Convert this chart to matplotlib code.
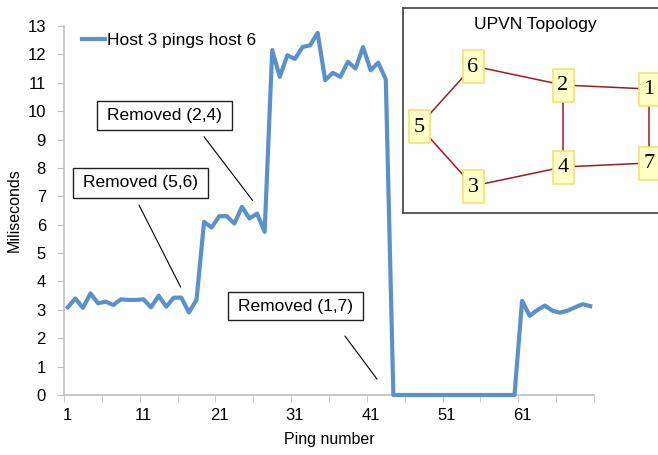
import numpy as np
import matplotlib.pyplot as plt
from matplotlib.patches import Rectangle

plt.rcParams['font.family'] = ['Liberation Sans', 'DejaVu Sans']

# round-trip time of each ping from host 3 to host 6 (ms)
latency = [3.09, 3.40, 3.07, 3.58, 3.23, 3.29, 3.17, 3.37, 3.35, 3.35,
           3.37, 3.09, 3.50, 3.11, 3.43, 3.43, 2.91, 3.35, 6.10, 5.90,
           6.30, 6.30, 6.04, 6.63, 6.22, 6.39, 5.75, 12.15, 11.21, 11.97,
           11.84, 12.26, 12.32, 12.76, 11.09, 11.35, 11.21, 11.74, 11.50, 12.26,
           11.44, 11.71, 11.12, 0.00, 0.00, 0.00, 0.00, 0.00, 0.00, 0.00,
           0.00, 0.00, 0.00, 0.00, 0.00, 0.00, 0.00, 0.00, 0.00, 0.00,
           3.32, 2.79, 2.99, 3.15, 2.97, 2.90, 2.97, 3.09, 3.20, 3.13]
pings = np.arange(1, len(latency) + 1)

# link removal callouts: label, box (x0, x1, y0, y1), leader line start/end
events = ["Removed (5,6)", "Removed (2,4)", "Removed (1,7)"]
event_boxes = [(1.69, 19.52, 6.94, 8.00),
               (4.86, 22.69, 9.34, 10.36),
               (22.16, 39.99, 2.64, 3.63)]
event_lines = [((10.41, 6.69), (15.91, 3.80)),
               ((18.99, 9.10), (25.42, 6.85)),
               ((37.6, 2.08), (41.84, 0.56))]

# network topology
node_names = ["6", "2", "1", "5", "4", "7", "3"]
node_x = [70, 160, 246, 16, 160, 246, 70]
node_y = [58, 77, 81, 118, 159, 155, 178]
links = [("5", "6"), ("6", "2"), ("2", "1"), ("1", "7"),
         ("7", "4"), ("4", "2"), ("4", "3"), ("3", "5")]

W, H = 658, 455
fig = plt.figure(figsize=(W / 100, H / 100), dpi=100)
ax = fig.add_axes([64 / W, 1 - 395 / H, 530 / W, 369 / H])

ax.plot(pings, latency, color="#5B91CB", lw=3, clip_on=False,
        label="Host 3 pings host 6", zorder=3)

ax.set_xlim(0.5, len(latency) + 0.5)
ax.set_ylim(0, 13)
ax.set_yticks(range(0, 14))
ax.set_xticks(pings[::10])
ax.set_xticks(np.arange(0.5, len(latency) + 1, 5), minor=True)
ax.tick_params(axis="x", which="major", length=0, pad=9, labelsize=12)
ax.tick_params(axis="x", which="minor", length=5, color="#BFBFBF", direction="out")
ax.tick_params(axis="y", length=5, color="#BFBFBF", direction="out",
               pad=8, labelsize=12)
for s in ["top", "right"]:
    ax.spines[s].set_visible(False)
for s in ["left", "bottom"]:
    ax.spines[s].set_color("#BFBFBF")
    ax.spines[s].set_linewidth(1.2)

ax.set_xlabel("Ping number", fontsize=11.5)
ax.xaxis.set_label_coords(0.5, -(432 - 395) / 369)
ax.set_ylabel("Miliseconds", fontsize=11.5)
ax.yaxis.set_label_coords((22 - 64) / 530, 0.5)

ax.legend(loc="center left", bbox_to_anchor=(82 / W, 1 - 40 / H),
          bbox_transform=fig.transFigure, frameon=False, fontsize=12.5,
          handlelength=1.3, handletextpad=0.15, borderpad=0, borderaxespad=0)

for label, (x0, x1, y0, y1), (start, end) in zip(events, event_boxes, event_lines):
    ax.add_patch(Rectangle((x0, y0), x1 - x0, y1 - y0, facecolor="white",
                           edgecolor="#202020", lw=1, zorder=4))
    ax.text((x0 + x1) / 2, (y0 + y1) / 2, label, ha="center", va="center",
            fontsize=12.5, zorder=5)
    ax.annotate("", xy=end, xytext=start,
                arrowprops=dict(arrowstyle="-", color="black", lw=0.8,
                                shrinkA=0, shrinkB=0))

# topology inset
ins = fig.add_axes([403 / W, 1 - 213 / H, 258 / W, 205 / H])
ins.set_xlim(0, 258)
ins.set_ylim(205, 0)
ins.set_xticks([])
ins.set_yticks([])
for s in ins.spines.values():
    s.set_color("#404040")
    s.set_linewidth(1.2)
ins.text(132, 16, "UPVN Topology", ha="center", va="center", fontsize=12.5)

pos = {n: (x, y) for n, x, y in zip(node_names, node_x, node_y)}
for a, b in links:
    ins.plot([pos[a][0], pos[b][0]], [pos[a][1], pos[b][1]],
             color="#9E1B1B", lw=1.1, zorder=1)
bw, bh = 21, 33
for n, (x, y) in pos.items():
    ins.add_patch(Rectangle((x - bw / 2, y - bh / 2), bw, bh,
                            facecolor="#FFFFC6", edgecolor="#F3E07A",
                            lw=1.2, zorder=2))
    ins.text(x, y + 1, n, ha="center", va="center", fontsize=16,
             family="Liberation Serif", zorder=3)

fig.savefig("out.png", dpi=100)
